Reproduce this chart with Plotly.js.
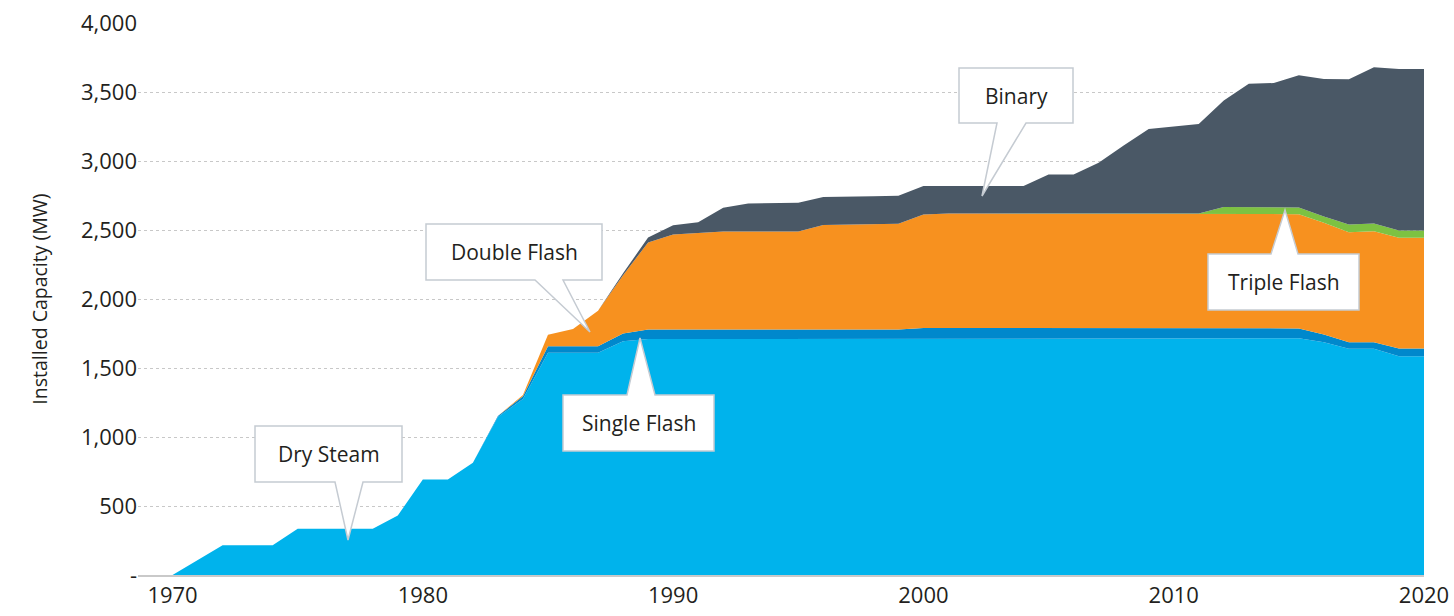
<!DOCTYPE html>
<html>
<head>
<meta charset="utf-8">
<script src="https://cdn.plot.ly/plotly-3.0.1.min.js"></script>
<style>
  html, body { margin: 0; padding: 0; background: #ffffff; }
  #chart { width: 1454px; height: 616px; }
</style>
</head>
<body>
<div id="chart"></div>
<script>
// ---------------- data ----------------
const years = [];
for (let y = 1970; y <= 2020; y++) years.push(y);

const seriesNames = ['Dry Steam', 'Single Flash', 'Double Flash', 'Triple Flash', 'Binary'];

const drySteam = [
  0, 108, 216, 216, 216, 335, 335, 335, 335, 431,
  692, 692, 813, 1145, 1275, 1610, 1610, 1610, 1694, 1711,
  1710, 1710, 1710, 1710, 1710, 1710, 1710, 1710, 1710, 1710,
  1710, 1710, 1710, 1710, 1710, 1710, 1710, 1710, 1710, 1710,
  1710, 1710, 1710, 1710, 1710, 1715, 1687, 1639, 1639, 1586,
  1586
];
const singleFlash = [
  0, 0, 0, 0, 0, 0, 0, 0, 0, 0,
  0, 0, 0, 8, 20, 48, 48, 48, 56, 68,
  69, 69, 69, 69, 69, 69, 69, 69, 69, 69,
  80, 80, 80, 80, 80, 80, 80, 80, 80, 80,
  80, 80, 80, 80, 80, 72, 56, 48, 48, 55,
  55
];
const doubleFlash = [
  0, 0, 0, 0, 0, 0, 0, 0, 0, 0,
  0, 0, 0, 0, 10, 83, 124, 257, 422, 631,
  688, 700, 711, 711, 711, 711, 758, 761, 764, 766,
  822, 829, 829, 829, 829, 829, 829, 829, 829, 829,
  829, 829, 829, 829, 829, 828, 809, 797, 804, 802,
  802
];
const tripleFlash = [
  0, 0, 0, 0, 0, 0, 0, 0, 0, 0,
  0, 0, 0, 0, 0, 0, 0, 0, 0, 0,
  0, 0, 0, 0, 0, 0, 0, 0, 0, 0,
  0, 0, 0, 0, 0, 0, 0, 0, 0, 0,
  0, 0, 48, 48, 48, 48, 45, 55, 56, 53,
  53
];
const binary = [
  0, 0, 0, 0, 0, 0, 0, 0, 0, 0,
  0, 0, 0, 0, 0, 0, 0, 0, 15, 35,
  68, 78, 172, 202, 205, 207, 203, 205, 202, 203,
  206, 199, 199, 199, 199, 283, 283, 368, 494, 613,
  631, 650, 772, 893, 898, 959, 997, 1053, 1133, 1171,
  1171
];

const xTickVals = [1970, 1980, 1990, 2000, 2010, 2020];
const xTickText = ['1970', '1980', '1990', '2000', '2010', '2020'];
const yTickVals = [0, 500, 1000, 1500, 2000, 2500, 3000, 3500, 4000];
const yTickText = ['-', '500', '1,000', '1,500', '2,000', '2,500', '3,000', '3,500', '4,000'];

// ---------------- styles ----------------
const colors = ['#00b3ec', '#0088cc', '#f7911f', '#7dc242', '#4a5866'];
const FONT = 'Open Sans, Noto Sans, sans-serif';
const TXT = '#231f20';

const seriesValues = [drySteam, singleFlash, doubleFlash, tripleFlash, binary];
const traces = seriesValues.map((vals, i) => ({
  type: 'scatter',
  mode: 'lines',
  name: seriesNames[i],
  x: years,
  y: vals,
  stackgroup: 'one',
  fillcolor: colors[i],
  line: { color: colors[i], width: 0 },
  hoverinfo: 'x+y+name'
}));

// ---------------- callouts (pixel layout -> axis coordinates) ----------------
const L = 138, R = 1424, T = 23, B = 575;
const X0 = 1968.62, X1 = 2020, Y0 = 0, Y1 = 4000;
const px2x = px => X0 + (px - L) / (R - L) * (X1 - X0);
const py2y = py => Y0 + (B - py) / (B - T) * (Y1 - Y0);

// box: [left, top, right, bottom], pointer: side, baseLeft, baseRight, tip
const callouts = [
  { text: 'Dry Steam',    box: [255, 426, 402, 482], side: 'bottom', base: [335, 363], tip: [348, 540] },
  { text: 'Double Flash', box: [426, 224, 602, 280], side: 'bottom', base: [535, 563], tip: [590, 332] },
  { text: 'Single Flash', box: [563, 395, 714, 451], side: 'top',    base: [627, 655], tip: [640, 338] },
  { text: 'Binary',       box: [959,  68, 1073, 123], side: 'bottom', base: [997, 1026], tip: [982, 196] },
  { text: 'Triple Flash', box: [1208, 254, 1359, 310], side: 'top',  base: [1271, 1298], tip: [1285, 210] }
];

const shapes = [];
const annotations = [];
callouts.forEach(c => {
  const [l, t, r, b] = c.box;
  let pts;
  if (c.side === 'bottom') {
    pts = [[l, t], [r, t], [r, b], [c.base[1], b], c.tip, [c.base[0], b], [l, b]];
  } else {
    pts = [[l, t], [c.base[0], t], c.tip, [c.base[1], t], [r, t], [r, b], [l, b]];
  }
  const path = pts.map((p, i) => (i === 0 ? 'M' : 'L') + px2x(p[0]).toFixed(4) + ',' + py2y(p[1]).toFixed(2)).join(' ') + ' Z';
  shapes.push({
    type: 'path', xref: 'x', yref: 'y', path: path,
    fillcolor: '#ffffff', line: { color: '#c5cbd2', width: 1.5 }, layer: 'above'
  });
  annotations.push({
    xref: 'x', yref: 'y',
    x: px2x((l + r) / 2), y: py2y((t + b) / 2),
    text: c.text, showarrow: false,
    font: { family: FONT, size: 21, color: TXT },
    xanchor: 'center', yanchor: 'middle'
  });
});

const layout = {
  width: 1454, height: 616,
  margin: { l: L, r: 1454 - R, t: T, b: 616 - B },
  paper_bgcolor: '#ffffff', plot_bgcolor: '#ffffff',
  showlegend: false,
  xaxis: {
    range: [X0, X1],
    tickvals: xTickVals, ticktext: xTickText,
    showgrid: false, zeroline: false,
    showline: true, linecolor: '#c9c9c9', linewidth: 1.5,
    ticks: '',
    tickfont: { family: FONT, size: 22, color: TXT }
  },
  yaxis: {
    range: [Y0, Y1],
    tickvals: yTickVals, ticktext: yTickText,
    showgrid: true, gridcolor: '#c8c8c8', gridwidth: 1, griddash: '3px,3px',
    zeroline: false, showline: false, ticks: '',
    tickfont: { family: FONT, size: 22, color: TXT },
    title: { text: 'Installed Capacity (MW)', font: { family: FONT, size: 19.5, color: TXT }, standoff: 28 }
  },
  shapes: shapes,
  annotations: annotations
};

Plotly.newPlot('chart', traces, layout, { displayModeBar: false, staticPlot: true });
</script>
</body>
</html>
